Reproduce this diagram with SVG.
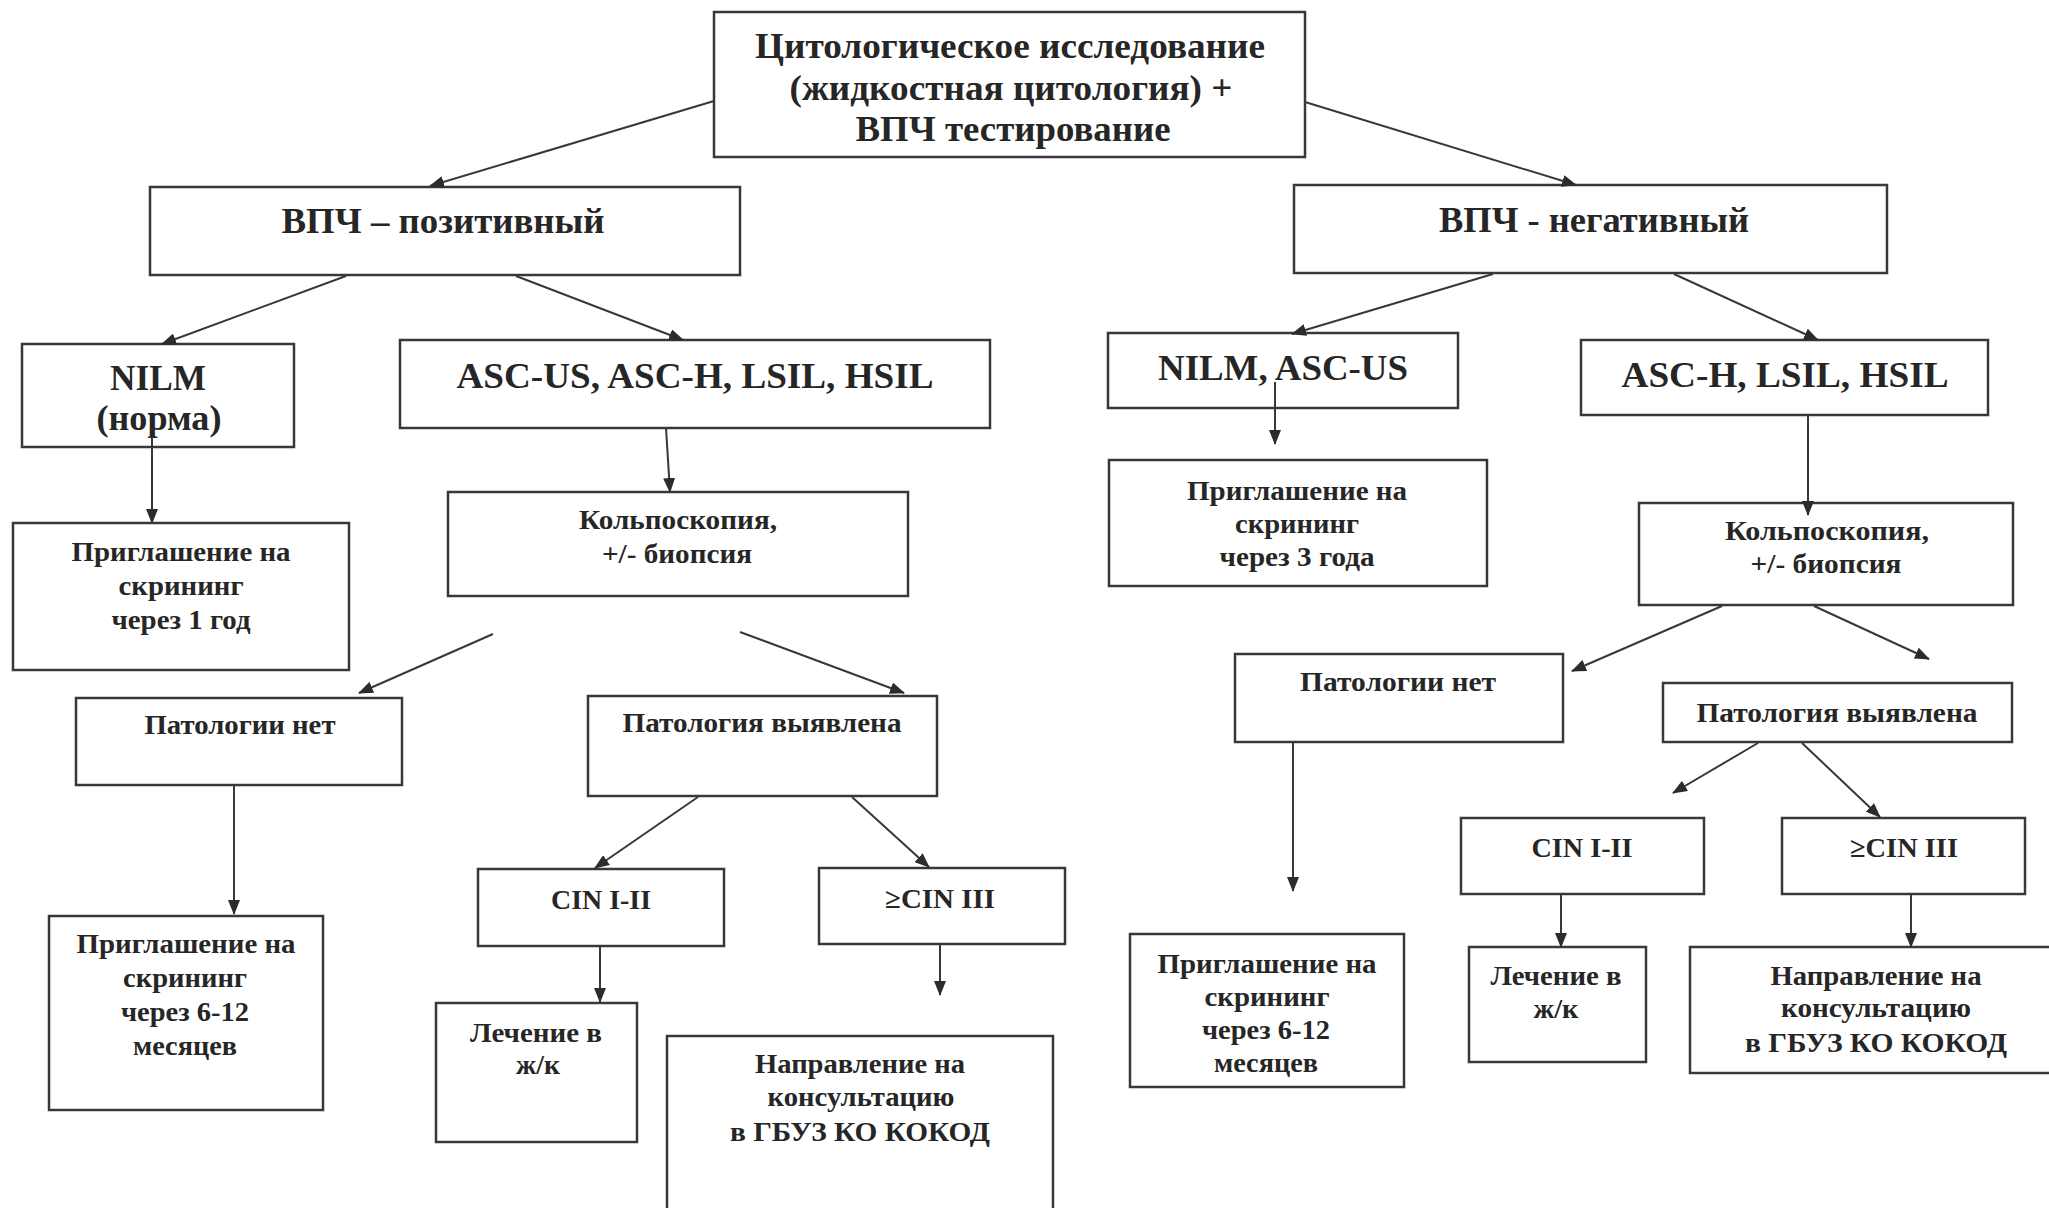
<svg xmlns="http://www.w3.org/2000/svg" width="2049" height="1208" viewBox="0 0 2049 1208">
<style>
.box{fill:#ffffff;stroke:#3a363c;stroke-width:2.5}
.t{font-family:"Liberation Serif","Times New Roman",serif;font-weight:bold;fill:#262626;text-anchor:middle}
.l{font-size:36px}
.s{font-size:28px}
.c line{stroke:#3a363c;stroke-width:2;marker-end:url(#ah)}
</style>
<defs>
<marker id="ah" markerUnits="userSpaceOnUse" markerWidth="15" markerHeight="12" refX="14" refY="6" orient="auto">
<path d="M0,0 L15,6 L0,12 z" fill="#2e2a30"/>
</marker>
</defs>
<rect width="2049" height="1208" fill="#ffffff"/>

<g id="top">
<rect class="box" x="714" y="12" width="591" height="145"/>
<text class="t l" x="1010" y="58" textLength="510" lengthAdjust="spacingAndGlyphs">Цитологическое исследование</text>
<text class="t l" x="1011" y="100" textLength="443" lengthAdjust="spacingAndGlyphs">(жидкостная цитология) +</text>
<text class="t l" x="1013" y="141" textLength="315" lengthAdjust="spacingAndGlyphs">ВПЧ тестирование</text>
</g>

<g id="hpv-pos">
<rect class="box" x="150" y="187" width="590" height="88"/>
<text class="t l" x="443" y="233" textLength="323" lengthAdjust="spacingAndGlyphs">ВПЧ – позитивный</text>
</g>

<g id="hpv-neg">
<rect class="box" x="1294" y="185" width="593" height="88"/>
<text class="t l" x="1594" y="232" textLength="310" lengthAdjust="spacingAndGlyphs">ВПЧ - негативный</text>
</g>

<g id="nilm-l">
<rect class="box" x="22" y="344" width="272" height="103"/>
<text class="t l" x="158" y="390" textLength="96" lengthAdjust="spacingAndGlyphs">NILM</text>
<text class="t l" x="159" y="430" textLength="125" lengthAdjust="spacingAndGlyphs">(норма)</text>
</g>

<g id="ascus-l">
<rect class="box" x="400" y="340" width="590" height="88"/>
<text class="t l" x="695" y="388" textLength="477" lengthAdjust="spacingAndGlyphs">ASC-US, ASC-H, LSIL, HSIL</text>
</g>

<g id="nilm-ascus-r">
<rect class="box" x="1108" y="333" width="350" height="75"/>
<text class="t l" x="1283" y="380" textLength="250" lengthAdjust="spacingAndGlyphs">NILM, ASC-US</text>
</g>

<g id="asch-r">
<rect class="box" x="1581" y="340" width="407" height="75"/>
<text class="t l" x="1785" y="387" textLength="327" lengthAdjust="spacingAndGlyphs">ASC-H, LSIL, HSIL</text>
</g>

<g id="invite1">
<rect class="box" x="13" y="523" width="336" height="147"/>
<text class="t s" x="181" y="561" textLength="219" lengthAdjust="spacingAndGlyphs">Приглашение на</text>
<text class="t s" x="181" y="595" textLength="125" lengthAdjust="spacingAndGlyphs">скрининг</text>
<text class="t s" x="181" y="629" textLength="139" lengthAdjust="spacingAndGlyphs">через 1 год</text>
</g>

<g id="colpo-l">
<rect class="box" x="448" y="492" width="460" height="104"/>
<text class="t s" x="678" y="529" textLength="198" lengthAdjust="spacingAndGlyphs">Кольпоскопия,</text>
<text class="t s" x="677" y="563" textLength="150" lengthAdjust="spacingAndGlyphs">+/- биопсия</text>
</g>

<g id="nopath-l">
<rect class="box" x="76" y="698" width="326" height="87"/>
<text class="t s" x="240" y="734" textLength="191" lengthAdjust="spacingAndGlyphs">Патологии нет</text>
</g>

<g id="path-l">
<rect class="box" x="588" y="696" width="349" height="100"/>
<text class="t s" x="762" y="732" textLength="279" lengthAdjust="spacingAndGlyphs">Патология выявлена</text>
</g>

<g id="cin12-l">
<rect class="box" x="478" y="869" width="246" height="77"/>
<text class="t s" x="601" y="909" textLength="100" lengthAdjust="spacingAndGlyphs">CIN I-II</text>
</g>

<g id="cin3-l">
<rect class="box" x="819" y="868" width="246" height="76"/>
<text class="t s" x="940" y="908" textLength="110" lengthAdjust="spacingAndGlyphs">≥CIN III</text>
</g>

<g id="treat-l">
<rect class="box" x="436" y="1003" width="201" height="139"/>
<text class="t s" x="536" y="1042" textLength="132" lengthAdjust="spacingAndGlyphs">Лечение в</text>
<text class="t s" x="538" y="1074" textLength="44" lengthAdjust="spacingAndGlyphs">ж/к</text>
</g>

<g id="invite612-l">
<rect class="box" x="49" y="916" width="274" height="194"/>
<text class="t s" x="186" y="953" textLength="219" lengthAdjust="spacingAndGlyphs">Приглашение на</text>
<text class="t s" x="185" y="987" textLength="124" lengthAdjust="spacingAndGlyphs">скрининг</text>
<text class="t s" x="185" y="1021" textLength="128" lengthAdjust="spacingAndGlyphs">через 6-12</text>
<text class="t s" x="185" y="1055" textLength="104" lengthAdjust="spacingAndGlyphs">месяцев</text>
</g>

<g id="refer-l">
<rect class="box" x="667" y="1036" width="386" height="190"/>
<text class="t s" x="860" y="1073" textLength="210" lengthAdjust="spacingAndGlyphs">Направление на</text>
<text class="t s" x="861" y="1106" textLength="187" lengthAdjust="spacingAndGlyphs">консультацию</text>
<text class="t s" x="860" y="1141" textLength="260" lengthAdjust="spacingAndGlyphs">в ГБУЗ КО КОКОД</text>
</g>

<g id="invite3">
<rect class="box" x="1109" y="460" width="378" height="126"/>
<text class="t s" x="1297" y="500" textLength="220" lengthAdjust="spacingAndGlyphs">Приглашение на</text>
<text class="t s" x="1297" y="533" textLength="124" lengthAdjust="spacingAndGlyphs">скрининг</text>
<text class="t s" x="1297" y="566" textLength="155" lengthAdjust="spacingAndGlyphs">через 3 года</text>
</g>

<g id="colpo-r">
<rect class="box" x="1639" y="503" width="374" height="102"/>
<text class="t s" x="1827" y="540" textLength="204" lengthAdjust="spacingAndGlyphs">Кольпоскопия,</text>
<text class="t s" x="1826" y="573" textLength="151" lengthAdjust="spacingAndGlyphs">+/- биопсия</text>
</g>

<g id="nopath-r">
<rect class="box" x="1235" y="654" width="328" height="88"/>
<text class="t s" x="1398" y="691" textLength="196" lengthAdjust="spacingAndGlyphs">Патологии нет</text>
</g>

<g id="path-r">
<rect class="box" x="1663" y="683" width="349" height="59"/>
<text class="t s" x="1837" y="722" textLength="281" lengthAdjust="spacingAndGlyphs">Патология выявлена</text>
</g>

<g id="cin12-r">
<rect class="box" x="1461" y="818" width="243" height="76"/>
<text class="t s" x="1582" y="857" textLength="101" lengthAdjust="spacingAndGlyphs">CIN I-II</text>
</g>

<g id="cin3-r">
<rect class="box" x="1782" y="818" width="243" height="76"/>
<text class="t s" x="1904" y="857" textLength="108" lengthAdjust="spacingAndGlyphs">≥CIN III</text>
</g>

<g id="treat-r">
<rect class="box" x="1469" y="947" width="177" height="115"/>
<text class="t s" x="1556" y="985" textLength="131" lengthAdjust="spacingAndGlyphs">Лечение в</text>
<text class="t s" x="1556" y="1018" textLength="45" lengthAdjust="spacingAndGlyphs">ж/к</text>
</g>

<g id="refer-r">
<rect class="box" x="1690" y="947" width="370" height="126"/>
<text class="t s" x="1876" y="985" textLength="211" lengthAdjust="spacingAndGlyphs">Направление на</text>
<text class="t s" x="1876" y="1017" textLength="190" lengthAdjust="spacingAndGlyphs">консультацию</text>
<text class="t s" x="1876" y="1052" textLength="262" lengthAdjust="spacingAndGlyphs">в ГБУЗ КО КОКОД</text>
</g>

<g id="invite612-r">
<rect class="box" x="1130" y="934" width="274" height="153"/>
<text class="t s" x="1267" y="973" textLength="219" lengthAdjust="spacingAndGlyphs">Приглашение на</text>
<text class="t s" x="1267" y="1006" textLength="125" lengthAdjust="spacingAndGlyphs">скрининг</text>
<text class="t s" x="1266" y="1039" textLength="128" lengthAdjust="spacingAndGlyphs">через 6-12</text>
<text class="t s" x="1266" y="1072" textLength="104" lengthAdjust="spacingAndGlyphs">месяцев</text>
</g>

<g id="connectors" class="c">
<line x1="714" y1="101" x2="430" y2="186"/>
<line x1="1305" y1="102" x2="1576" y2="185"/>
<line x1="346" y1="276" x2="162" y2="344"/>
<line x1="516" y1="276" x2="683" y2="340"/>
<line x1="1493" y1="274" x2="1292" y2="334"/>
<line x1="1674" y1="274" x2="1818" y2="340"/>
<line x1="152" y1="437" x2="152" y2="523"/>
<line x1="666" y1="428" x2="670" y2="492"/>
<line x1="1275" y1="382" x2="1275" y2="444"/>
<line x1="1808" y1="415" x2="1808" y2="515"/>
<line x1="493" y1="634" x2="359" y2="693"/>
<line x1="740" y1="632" x2="904" y2="693"/>
<line x1="234" y1="785" x2="234" y2="914"/>
<line x1="698" y1="797" x2="595" y2="868"/>
<line x1="852" y1="797" x2="929" y2="867"/>
<line x1="600" y1="947" x2="600" y2="1002"/>
<line x1="940" y1="945" x2="940" y2="995"/>
<line x1="1722" y1="606" x2="1572" y2="671"/>
<line x1="1814" y1="606" x2="1929" y2="659"/>
<line x1="1293" y1="742" x2="1293" y2="891"/>
<line x1="1758" y1="743" x2="1673" y2="793"/>
<line x1="1802" y1="743" x2="1880" y2="817"/>
<line x1="1561" y1="895" x2="1561" y2="947"/>
<line x1="1911" y1="895" x2="1911" y2="947"/>
</g>
</svg>
